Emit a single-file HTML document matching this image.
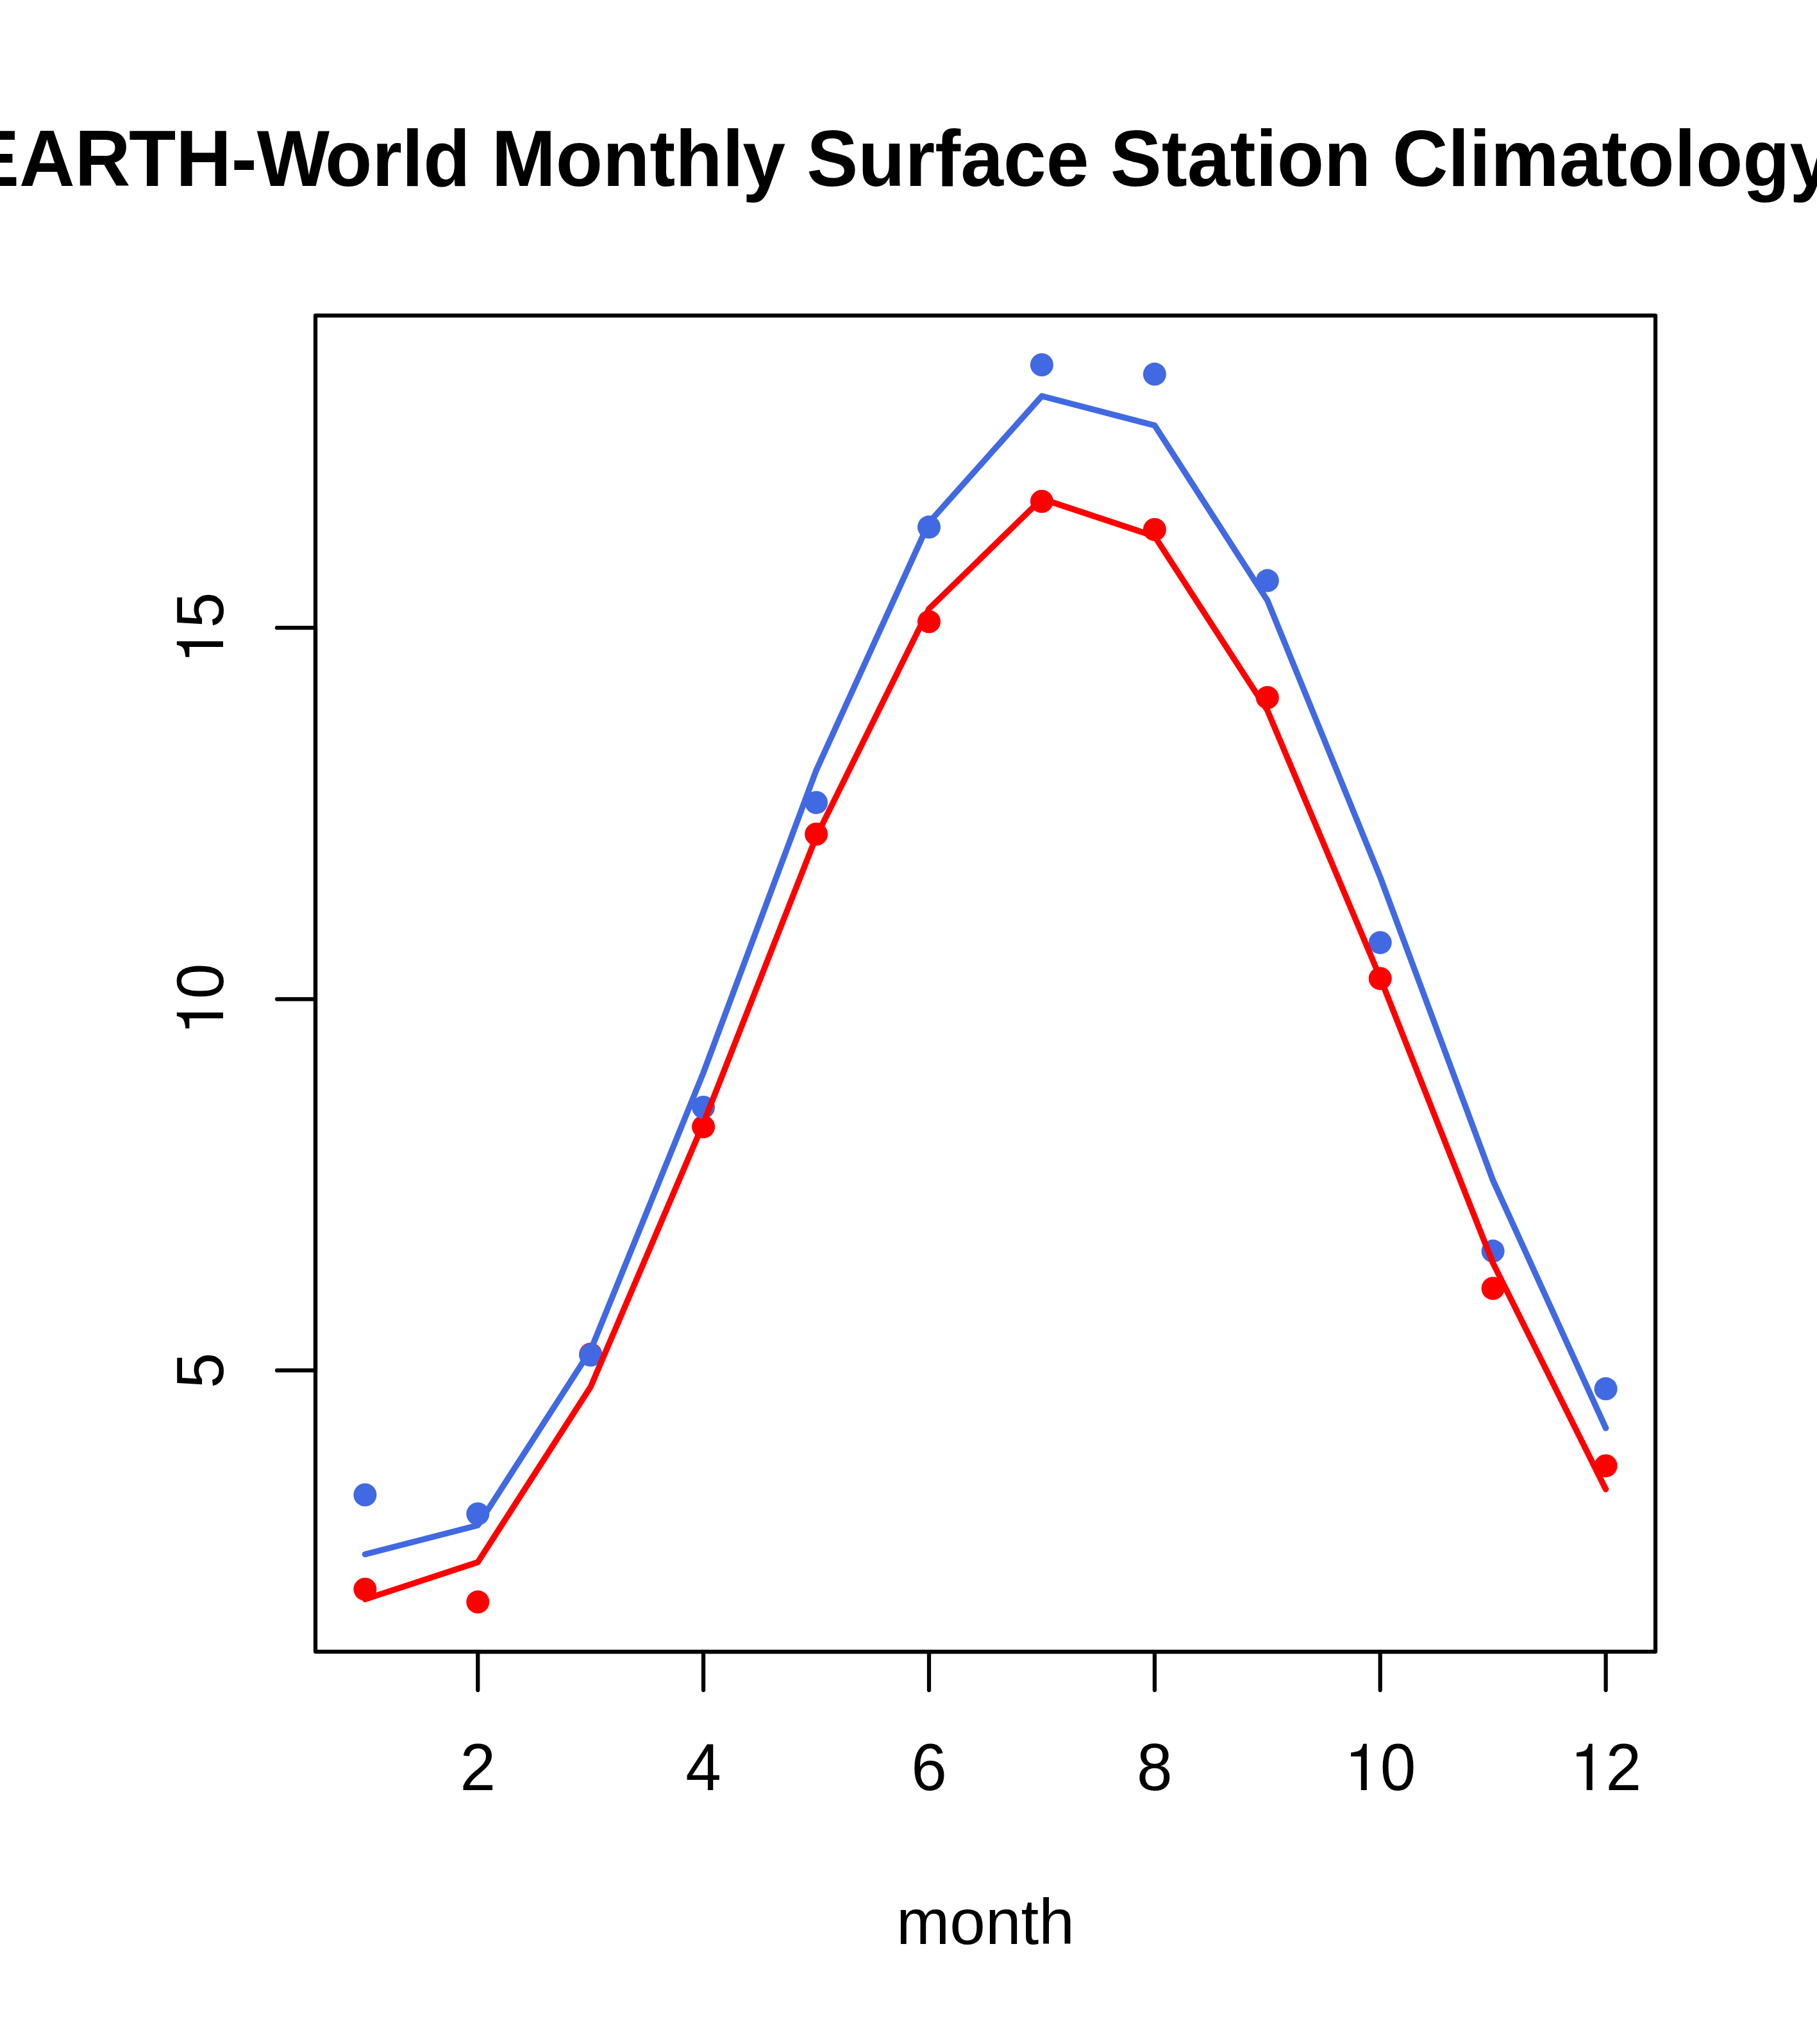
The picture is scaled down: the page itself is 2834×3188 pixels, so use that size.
<!DOCTYPE html>
<html>
<head>
<meta charset="utf-8">
<title>EARTH-World Monthly Surface Station Climatology</title>
<style>
html,body{margin:0;padding:0;background:#ffffff;}
body{width:2834px;height:3188px;overflow:hidden;}
svg{display:block;font-family:"Liberation Sans",sans-serif;font-kerning:none;}
</style>
</head>
<body>
<svg width="2834" height="3188" viewBox="0 0 2834 3188">
<rect x="0" y="0" width="2834" height="3188" fill="#ffffff"/>
<!-- title -->
<text transform="translate(-50 290) scale(1 1.03)" x="0" y="0" font-size="120" font-weight="bold" fill="#000">EAR<tspan dx="-2.4">T</tspan>H-W<tspan dx="-7.2">o</tspan>rld Monthl<tspan dx="-1.8">y</tspan> Surface Station Climatology</text>
<!-- points -->
<g>
<circle cx="569.4" cy="2478.7" r="18" fill="#FF0000"/>
<circle cx="745.3" cy="2498.6" r="18" fill="#FF0000"/>
<circle cx="921.2" cy="2112.2" r="18" fill="#FF0000"/>
<circle cx="1097.1" cy="1757.4" r="18" fill="#FF0000"/>
<circle cx="1273.1" cy="1301.0" r="18" fill="#FF0000"/>
<circle cx="1449.0" cy="969.6" r="18" fill="#FF0000"/>
<circle cx="1624.9" cy="782.0" r="18" fill="#FF0000"/>
<circle cx="1800.9" cy="825.9" r="18" fill="#FF0000"/>
<circle cx="1976.8" cy="1088.0" r="18" fill="#FF0000"/>
<circle cx="2152.7" cy="1526.2" r="18" fill="#FF0000"/>
<circle cx="2328.6" cy="2009.5" r="18" fill="#FF0000"/>
<circle cx="2504.6" cy="2286.2" r="18" fill="#FF0000"/>
</g>
<g>
<circle cx="569.4" cy="2331.5" r="18" fill="#4169E1"/>
<circle cx="745.3" cy="2361.2" r="18" fill="#4169E1"/>
<circle cx="921.2" cy="2113.5" r="18" fill="#4169E1"/>
<circle cx="1097.1" cy="1727.0" r="18" fill="#4169E1"/>
<circle cx="1273.1" cy="1251.7" r="18" fill="#4169E1"/>
<circle cx="1449.0" cy="822.1" r="18" fill="#4169E1"/>
<circle cx="1624.9" cy="569.0" r="18" fill="#4169E1"/>
<circle cx="1800.9" cy="583.6" r="18" fill="#4169E1"/>
<circle cx="1976.8" cy="905.6" r="18" fill="#4169E1"/>
<circle cx="2152.7" cy="1470.2" r="18" fill="#4169E1"/>
<circle cx="2328.6" cy="1951.3" r="18" fill="#4169E1"/>
<circle cx="2504.6" cy="2166.1" r="18" fill="#4169E1"/>
</g>
<!-- lines -->
<polyline points="569.4,2424.2 745.3,2379.0 921.2,2106.0 1097.1,1673.0 1273.1,1201.5 1449.0,815.0 1624.9,617.8 1800.9,663.5 1976.8,936.5 2152.7,1368.0 2328.6,1841.0 2504.6,2227.5" fill="none" stroke="#4169E1" stroke-width="9.375" stroke-linejoin="round" stroke-linecap="round"/>
<polyline points="569.4,2494.4 745.3,2436.5 921.2,2163.0 1097.1,1752.0 1273.1,1305.0 1449.0,949.5 1624.9,778.0 1800.9,836.5 1976.8,1108.0 2152.7,1525.0 2328.6,1970.0 2504.6,2322.8" fill="none" stroke="#FF0000" stroke-width="9.375" stroke-linejoin="round" stroke-linecap="round"/>
<!-- axes -->
<g stroke="#000" stroke-width="6.25" stroke-linecap="round" fill="none">
<line x1="745.3" y1="2576" x2="2504.6" y2="2576"/>
<line x1="745.3" y1="2576" x2="745.3" y2="2636"/>
<line x1="1097.1" y1="2576" x2="1097.1" y2="2636"/>
<line x1="1449.0" y1="2576" x2="1449.0" y2="2636"/>
<line x1="1800.9" y1="2576" x2="1800.9" y2="2636"/>
<line x1="2152.7" y1="2576" x2="2152.7" y2="2636"/>
<line x1="2504.6" y1="2576" x2="2504.6" y2="2636"/>
<line x1="492" y1="2137.4" x2="492" y2="979.2"/>
<line x1="492" y1="2137.4" x2="432" y2="2137.4"/>
<line x1="492" y1="1558.3" x2="432" y2="1558.3"/>
<line x1="492" y1="979.2" x2="432" y2="979.2"/>
</g>
<g font-size="100" fill="#000">
<g transform="translate(745.3 2792)"><text x="0" y="0" text-anchor="middle" transform="scale(1 1.03)">2</text></g>
<g transform="translate(1097.1 2792)"><text x="0" y="0" text-anchor="middle" transform="scale(1 1.03)">4</text></g>
<g transform="translate(1449.0 2792)"><text x="0" y="0" text-anchor="middle" transform="scale(1 1.03)">6</text></g>
<g transform="translate(1800.9 2792)"><text x="0" y="0" text-anchor="middle" transform="scale(1 1.03)">8</text></g>
<g transform="translate(2152.7 2792)"><g transform="translate(-55.6 0) scale(0.1 -0.1)"><path d="M257 0H346.5V722H291C279 684 271 640 236 620C197 597.5 145 591 100 586V526H257Z"/></g><text x="0" y="0" transform="scale(1 1.03)">0</text></g>
<g transform="translate(2504.6 2792)"><g transform="translate(-55.6 0) scale(0.1 -0.1)"><path d="M257 0H346.5V722H291C279 684 271 640 236 620C197 597.5 145 591 100 586V526H257Z"/></g><text x="0" y="0" transform="scale(1 1.03)">2</text></g>
<g transform="translate(348 2137.4) rotate(-90)"><text x="0" y="0" text-anchor="middle" transform="scale(1 1.03)">5</text></g>
<g transform="translate(348 1558.3) rotate(-90)"><g transform="translate(-55.6 0) scale(0.1 -0.1)"><path d="M257 0H346.5V722H291C279 684 271 640 236 620C197 597.5 145 591 100 586V526H257Z"/></g><text x="0" y="0" transform="scale(1 1.03)">0</text></g>
<g transform="translate(348 979.2) rotate(-90)"><g transform="translate(-55.6 0) scale(0.1 -0.1)"><path d="M257 0H346.5V722H291C279 684 271 640 236 620C197 597.5 145 591 100 586V526H257Z"/></g><text x="0" y="0" transform="scale(1 1.03)">5</text></g>
<text x="1537" y="3032" text-anchor="middle">month</text>
</g>
<!-- box -->
<rect x="492" y="492" width="2090" height="2084" fill="none" stroke="#000" stroke-width="6.25" stroke-linejoin="round"/>
</svg>
</body>
</html>
